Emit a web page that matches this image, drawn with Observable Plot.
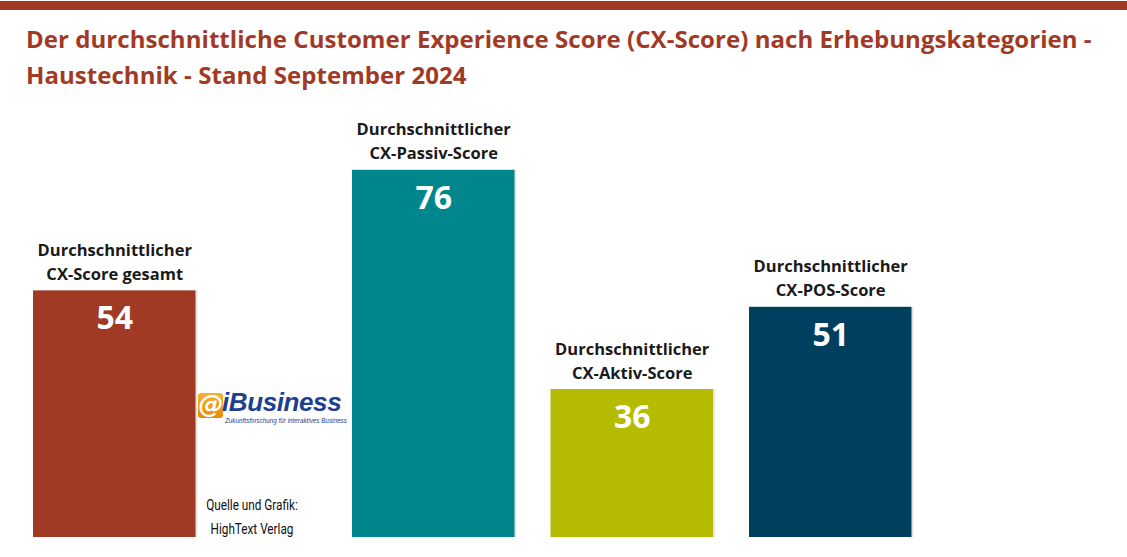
<!DOCTYPE html>
<html>
<head>
<meta charset="utf-8">
<script src="https://cdn.jsdelivr.net/npm/d3@7"></script>
<script src="https://cdn.jsdelivr.net/npm/@observablehq/plot@0.6"></script>
<style>
  body { margin: 0; background: #fff; width: 1127px; height: 557px; overflow: hidden; font-family: "Open Sans", sans-serif; }
  #page { position: relative; width: 1127px; height: 557px; }
  #topbar { position: absolute; left: 0; top: 1px; width: 1127px; height: 9px; background: #a13a25; }
  #header { height: 100px; position: relative; }
  #title { position: absolute; left: 26px; top: 21px; color: #a13a25; font-weight: 700; font-size: 24px; line-height: 36px; white-space: nowrap; letter-spacing: 0.05px; }
  #source { position: absolute; left: 152px; top: 493px; width: 200px; text-align: center; font-family: Roboto, sans-serif; font-size: 14px; line-height: 24px; color: #111; white-space: nowrap; transform: scaleX(0.84); }
  #logo { position: absolute; left: 197px; top: 392px; width: 150px; height: 30px; }
  #logo .box { position: absolute; left: 1px; top: 1px; width: 25px; height: 25px; border-radius: 3px; background: linear-gradient(#f9b233, #e98a00); }
  #logo .at { position: absolute; left: 0px; top: 0px; width: 28px; line-height: 26px; text-align: center; color: #fff; font-family: "DejaVu Sans", sans-serif; font-weight: 700; font-style: italic; font-size: 25px; }
  #logo .name { position: absolute; left: 25px; top: -1px; line-height: 22px; color: #1e3f90; font-family: "Liberation Sans", sans-serif; font-weight: 700; font-style: italic; font-size: 26px; letter-spacing: -0.4px; }
  #logo .sub { position: absolute; left: 28px; top: 25px; line-height: 7px; color: #1e3f90; font-family: "Liberation Sans", sans-serif; font-style: italic; font-size: 6.3px; white-space: nowrap; }
</style>
</head>
<body>
<div id="page">
  <div id="header">
    <div id="topbar"></div>
    <div id="title">Der durchschnittliche Customer Experience Score (CX-Score) nach Erhebungskategorien -<br>Haustechnik - Stand September 2024</div>
  </div>
  <div id="chart"></div>
  <div id="logo"><div class="box"></div><div class="at">@</div><div class="name">iBusiness</div><div class="sub">Zukunftsforschung für interaktives Business</div></div>
  <div id="source">Quelle und Grafik:<br>HighText Verlag</div>
</div>
<script>
const categories = [
  "Durchschnittlicher\nCX-Score gesamt",
  "Durchschnittlicher\nCX-Passiv-Score",
  "Durchschnittlicher\nCX-Aktiv-Score",
  "Durchschnittlicher\nCX-POS-Score"
];
const values = [54, 76, 36, 51];
const colors = ["#a13a25", "#00868b", "#b4bb00", "#00405e"];

// layout (not data): slot index with an extra gap after the first bar
const gapAfterFirst = 0.607;
const barWidth = 0.8186;
const slot = i => i + (i > 0 ? gapAfterFirst : 0);

const data = categories.map((c, i) => ({
  label: c, value: values[i], color: colors[i],
  x1: slot(i), x2: slot(i) + barWidth, xm: slot(i) + barWidth / 2
}));

const chart = Plot.plot({
  width: 1127,
  height: 457,
  marginTop: 0,
  marginBottom: 20,
  marginLeft: 33,
  marginRight: 0,
  x: { type: "linear", domain: [0, 1094 / 198.5], axis: null },
  y: { domain: [9, 88.74], axis: null },
  color: { type: "identity" },
  marks: [
    Plot.rectY(data, { x1: "x1", x2: "x2", y: "value", fill: "#000", fillOpacity: 0.1, dx: 2, clip: true }),
    Plot.rectY(data, { x1: "x1", x2: "x2", y: "value", fill: "color", clip: true }),
    Plot.text(data, { x: "xm", y: "value", text: d => String(d.value), dy: 28, fill: "#fff", fontSize: 32, fontWeight: 700, fontFamily: "'Open Sans', sans-serif", letterSpacing: 1 }),
    Plot.text(data, { x: "xm", y: "value", text: "label", lineAnchor: "bottom", dy: -11, lineHeight: 1.45, fill: "#1a1a1a", fontSize: 16.5, fontWeight: 700, fontFamily: "'Open Sans', sans-serif" })
  ]
});
document.getElementById("chart").appendChild(chart);
</script>
</body>
</html>
